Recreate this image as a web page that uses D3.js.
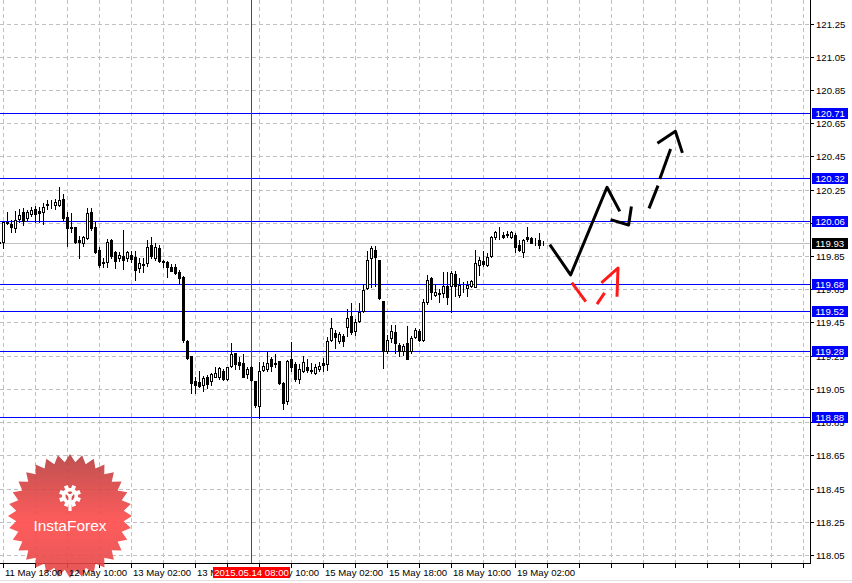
<!DOCTYPE html>
<html><head><meta charset="utf-8">
<script src="https://cdn.jsdelivr.net/npm/d3@7"></script>
<style>
body{margin:0;background:#fff;}
svg{display:block;}
text{font-family:"Liberation Sans",Arial,sans-serif;}
</style>
</head><body>
<svg id="c" width="852" height="583"></svg>
<script>
// ---------- DATA ----------
const firstBar = -1; // index of first bar in arrays below
const opens = [119.935,119.933,120.047,120.043,120.019,120.073,120.113,120.079,120.103,120.134,120.119,120.113,120.158,120.163,120.158,120.158,120.194,120.087,120.027,120.027,119.949,119.929,119.959,120.117,120.027,119.887,119.812,119.812,119.949,119.872,119.836,119.848,119.838,119.858,119.846,119.776,119.800,119.806,119.919,119.838,119.898,119.819,119.812,119.782,119.782,119.756,119.722,119.340,119.250,119.099,119.089,119.075,119.119,119.099,119.123,119.123,119.160,119.109,119.186,119.266,119.210,119.206,119.139,119.180,119.099,118.949,119.164,119.170,119.228,119.204,119.220,119.083,118.975,119.230,119.200,119.109,119.156,119.180,119.161,119.146,119.170,119.204,119.200,119.345,119.389,119.341,119.371,119.421,119.491,119.397,119.461,119.517,119.658,119.838,119.887,119.826,119.581,119.276,119.357,119.391,119.316,119.276,119.324,119.276,119.365,119.401,119.345,119.571,119.718,119.617,119.624,119.625,119.672,119.672,119.742,119.617,119.663,119.658,119.672,119.666,119.798,119.822,119.798,119.852,119.963,119.984,119.979,119.980,119.967,119.979,119.919,119.872,119.967,119.959,119.940,119.947,119.928];
const highs = [119.955,120.055,120.113,120.067,120.119,120.134,120.139,120.127,120.143,120.154,120.143,120.168,120.188,120.188,120.194,120.268,120.224,120.113,120.107,120.027,119.973,119.973,120.138,120.138,120.053,119.903,119.838,119.953,119.953,119.883,119.872,120.009,119.882,119.882,119.882,119.838,119.838,119.947,119.963,119.929,119.919,119.826,119.822,119.802,119.802,119.768,119.728,119.344,119.250,119.123,119.160,119.129,119.135,119.143,119.180,119.184,119.170,119.184,119.324,119.266,119.240,119.260,119.180,119.190,119.099,119.210,119.210,119.270,119.244,119.260,119.220,119.089,119.224,119.330,119.210,119.200,119.250,119.230,119.204,119.200,119.210,119.236,119.361,119.477,119.405,119.391,119.381,119.531,119.565,119.471,119.565,119.682,119.883,119.913,119.913,119.826,119.581,119.377,119.437,119.437,119.324,119.320,119.431,119.371,119.417,119.411,119.591,119.738,119.726,119.678,119.652,119.752,119.752,119.758,119.758,119.718,119.692,119.702,119.706,119.887,119.842,119.879,119.866,119.973,120.003,120.027,119.993,119.999,120.003,119.987,119.947,119.953,120.027,119.967,119.959,119.987,119.943];
const lows = [119.872,119.899,120.040,119.993,119.993,120.053,120.039,120.067,120.093,120.053,120.053,120.043,120.134,120.139,120.134,120.154,120.063,119.913,119.993,119.927,119.838,119.913,119.953,120.007,119.867,119.782,119.782,119.782,119.838,119.776,119.822,119.772,119.822,119.812,119.706,119.752,119.752,119.792,119.838,119.826,119.812,119.782,119.726,119.758,119.742,119.686,119.330,119.230,119.023,119.023,119.059,119.035,119.055,119.075,119.119,119.109,119.103,119.103,119.180,119.170,119.170,119.119,119.115,119.095,118.939,118.874,119.156,119.156,119.156,119.180,119.079,118.929,118.959,119.156,119.099,119.083,119.150,119.150,119.143,119.140,119.160,119.156,119.164,119.341,119.296,119.324,119.310,119.371,119.381,119.377,119.451,119.511,119.652,119.662,119.672,119.591,119.176,119.264,119.331,119.264,119.250,119.256,119.230,119.264,119.357,119.337,119.341,119.561,119.591,119.611,119.571,119.606,119.561,119.511,119.611,119.605,119.632,119.611,119.662,119.662,119.738,119.792,119.792,119.846,119.953,119.953,119.959,119.963,119.959,119.873,119.879,119.843,119.943,119.927,119.919,119.899,119.919];
const closes = [119.930,120.053,120.053,120.023,120.067,120.099,120.063,120.113,120.127,120.103,120.107,120.143,120.162,120.166,120.178,120.188,120.077,120.019,120.017,119.933,119.933,119.963,120.109,120.019,119.873,119.796,119.810,119.937,119.852,119.822,119.858,119.826,119.872,119.832,119.766,119.808,119.797,119.907,119.852,119.907,119.822,119.817,119.782,119.762,119.746,119.718,119.344,119.236,119.083,119.075,119.065,119.113,119.079,119.139,119.143,119.174,119.109,119.180,119.260,119.200,119.196,119.123,119.170,119.103,118.955,119.160,119.190,119.204,119.190,119.200,119.083,118.963,119.220,119.184,119.109,119.170,119.210,119.164,119.159,119.180,119.190,119.196,119.341,119.417,119.361,119.381,119.341,119.477,119.391,119.451,119.511,119.646,119.826,119.899,119.843,119.597,119.280,119.345,119.401,119.324,119.276,119.310,119.230,119.357,119.405,119.345,119.571,119.706,119.632,119.631,119.628,119.672,119.606,119.746,119.672,119.678,119.661,119.676,119.702,119.806,119.826,119.802,119.846,119.967,119.997,119.982,119.963,119.978,119.993,119.903,119.887,119.947,119.953,119.927,119.938,119.919,119.930];

const levels = [120.71, 120.32, 120.06, 119.68, 119.52, 119.28, 118.88];
const currentPrice = 119.93;
const priceTicks = ["118.05","118.25","118.45","118.65","118.85","119.05","119.25","119.45","119.65","119.85","120.05","120.25","120.45","120.65","120.85","121.05","121.25"];
const timeLabels = ["11 May 18:00","12 May 10:00","13 May 02:00","13 May 18:00","14 May 10:00","15 May 02:00","15 May 18:00","18 May 10:00","19 May 02:00"];
const timeLabelBars = [0,16,32,48,64,80,96,112,128];
const crosshairBar = 62;
const crosshairLabel = "2015.05.14 08:00";
// hand-drawn forecast strokes: [bar, price] points
const forecastBlack = [
  [[136.7,119.919],[141.9,119.736],[151.0,120.264],[154.2,120.119]],
  [[151.9,120.069],[156.4,120.037],[157.1,120.148]],
  [[161.5,120.137],[163.75,120.274]],
  [[164.2,120.314],[166.9,120.495]],
  [[163.6,120.529],[168.1,120.601],[169.85,120.471]]
];
const forecastRed = [
  [[142.2,119.690],[145.7,119.575]],
  [[148.5,119.561],[150.4,119.628]],
  [[149.6,119.688],[153.75,119.778],[153.5,119.605]]
];

// ---------- LAYOUT ----------
const W = 852, H = 583, plotR = 810, plotB = 563;
const svg = d3.select("#c");
svg.append("rect").attr("width",W).attr("height",H).attr("fill","#fff");

const x = d3.scaleLinear().domain([0,1]).range([3,7]);          // bar index -> pixel column
const y = d3.scaleLinear().domain([118.05,121.25]).range([555,23.5]);
const py = p => Math.round(y(p)) + 0.5;

svg.append("clipPath").attr("id","plot").append("rect").attr("x",0).attr("y",0).attr("width",plotR).attr("height",plotB);
const plot = svg.append("g").attr("clip-path","url(#plot)");

// grid
const gridBars = d3.range(0, 201, 8);
plot.selectAll("line.vg").data(gridBars).join("line")
  .attr("x1",d=>x(d)+0.5).attr("x2",d=>x(d)+0.5).attr("y1",0).attr("y2",plotB)
  .attr("stroke","#c0c0c0").attr("stroke-dasharray","4,3");
plot.selectAll("line.hg").data(priceTicks).join("line")
  .attr("x1",0).attr("x2",plotR).attr("y1",d=>py(+d)).attr("y2",d=>py(+d))
  .attr("stroke","#c0c0c0").attr("stroke-dasharray","4,3");

// current price line
plot.append("line").attr("x1",0).attr("x2",plotR).attr("y1",py(currentPrice)).attr("y2",py(currentPrice))
  .attr("stroke","#c0c0c0");

// level lines
plot.selectAll("line.lv").data(levels).join("line")
  .attr("x1",0).attr("x2",plotR).attr("y1",d=>py(d)).attr("y2",d=>py(d))
  .attr("stroke","#0000ff");

// crosshair
plot.append("line").attr("x1",x(crosshairBar)+0.5).attr("x2",x(crosshairBar)+0.5)
  .attr("y1",0).attr("y2",plotB).attr("stroke","#ff0000");

// candles
const bars = opens.map((o,k)=>({i:k+firstBar,o,h:highs[k],l:lows[k],c:closes[k]}));
const cg = plot.append("g");
bars.forEach(b=>{
  const cx = x(b.i)+0.5;
  cg.append("line").attr("x1",cx).attr("x2",cx)
    .attr("y1",Math.round(y(b.h))).attr("y2",Math.round(y(b.l))+1)
    .attr("stroke","#000");
  const top = Math.round(y(Math.max(b.o,b.c))), bot = Math.round(y(Math.min(b.o,b.c)));
  cg.append("rect").attr("x",cx-1).attr("y",top+0.5).attr("width",2).attr("height",Math.max(0,bot-top))
    .attr("fill", b.c>=b.o ? "#fff" : "#000").attr("stroke","#000");
});

// forecast strokes
const line = d3.line().x(d=>x(d[0])).y(d=>y(d[1]));
plot.selectAll("path.fb").data(forecastBlack).join("path")
  .attr("d",line).attr("fill","none").attr("stroke","#000").attr("stroke-width",3)
  .attr("stroke-linejoin","round");
plot.selectAll("path.fr").data(forecastRed).join("path")
  .attr("d",line).attr("fill","none").attr("stroke","#ff1a1a").attr("stroke-width",3)
  .attr("stroke-linejoin","round");

// axes frame
svg.append("line").attr("x1",plotR+0.5).attr("x2",plotR+0.5).attr("y1",0).attr("y2",plotB+1).attr("stroke","#000");
svg.append("line").attr("x1",0).attr("x2",plotR+1).attr("y1",plotB+0.5).attr("y2",plotB+0.5).attr("stroke","#000");
svg.append("line").attr("x1",0).attr("x2",W).attr("y1",580.5).attr("y2",580.5).attr("stroke","#e2e2e2");

// bottom ticks
svg.selectAll("line.bt").data(gridBars.filter(d=>x(d)<plotR)).join("line")
  .attr("x1",d=>x(d)+0.5).attr("x2",d=>x(d)+0.5).attr("y1",plotB).attr("y2",plotB+5).attr("stroke","#000");

// right ticks
svg.selectAll("line.rt").data(priceTicks).join("line")
  .attr("x1",plotR).attr("x2",plotR+4).attr("y1",d=>py(+d)).attr("y2",d=>py(+d)).attr("stroke","#000");

// logo badge
const bx = 70, byc = 516, nPts = 32, rO = 62, rI = 54;
const grad = svg.append("defs").append("linearGradient").attr("id","bg").attr("x1",0).attr("y1",0).attr("x2",0).attr("y2",1);
grad.append("stop").attr("offset","0%").attr("stop-color","#b73e3e");
grad.append("stop").attr("offset","55%").attr("stop-color","#ff4a4a");
grad.append("stop").attr("offset","100%").attr("stop-color","#e04545");
const starPts = d3.range(nPts*2).map(k=>{
  const a = Math.PI*k/nPts - Math.PI/2, r = k%2===0 ? rO : rI;
  return [bx + r*Math.cos(a), byc + r*Math.sin(a)];
});
const logo = svg.append("g");
logo.append("polygon").attr("points",starPts.map(p=>p.join(",")).join(" "))
  .attr("fill","url(#bg)").attr("fill-opacity",0.9);
// gear icon
const gx = 70, gy = 496;
const teeth = d3.range(8);
logo.selectAll("rect.tooth").data(teeth).join("rect")
  .attr("x",gx-2).attr("y",gy-11).attr("width",4).attr("height",5).attr("fill","#fff")
  .attr("transform",d=>`rotate(${d*45+22.5},${gx},${gy})`);
logo.append("circle").attr("cx",gx).attr("cy",gy).attr("r",8).attr("fill","#fff");
logo.append("circle").attr("cx",gx).attr("cy",gy).attr("r",4.5).attr("fill","#e04848");
logo.append("rect").attr("x",gx-1.6).attr("y",gy-2).attr("width",3.2).attr("height",17).attr("fill","#fff");
logo.append("path").attr("d",`M${gx-5},${gy-5} L${gx},${gy+1} L${gx+5},${gy-5}`)
  .attr("stroke","#fff").attr("stroke-width",2.4).attr("fill","none");
logo.append("rect").attr("x",gx-9).attr("y",gy+5).attr("width",6).attr("height",6).attr("fill","#e04848").attr("opacity",0);
logo.append("text").attr("x",bx).attr("y",531).attr("text-anchor","middle")
  .attr("fill","#fff").attr("font-size",15.5).attr("font-family","'Open Sans','Noto Sans',sans-serif")
  .text("InstaForex");

// bottom labels
svg.selectAll("text.tl").data(timeLabels).join("text")
  .attr("x",(d,k)=>x(timeLabelBars[k])+2).attr("y",576)
  .attr("font-size",9.6).attr("fill","#000").text(d=>d);

// crosshair label
const chx = x(crosshairBar)+0.5;
svg.append("rect").attr("x",chx-38.5).attr("y",567).attr("width",77).attr("height",11).attr("fill","#ff0000");
svg.append("text").attr("x",chx).attr("y",576).attr("text-anchor","middle")
  .attr("font-size",9.6).attr("fill","#fff").text(crosshairLabel);

// right labels
svg.selectAll("text.pl").data(priceTicks).join("text")
  .attr("x",816).attr("y",d=>py(+d)+3.5).attr("font-size",9.6).attr("fill","#000").text(d=>d);

// level boxes
const boxes = levels.map(v=>({v,fill:"#0000ff"})).concat([{v:currentPrice,fill:"#000"}]);
boxes.forEach(b=>{
  const yy = Math.round(y(b.v));
  svg.append("rect").attr("x",812).attr("y",yy-5).attr("width",36).attr("height",11).attr("fill",b.fill);
  svg.append("text").attr("x",815.5).attr("y",yy+4).attr("font-size",9.6).attr("fill","#fff").text(b.v.toFixed(2));
});
</script>
</body></html>
